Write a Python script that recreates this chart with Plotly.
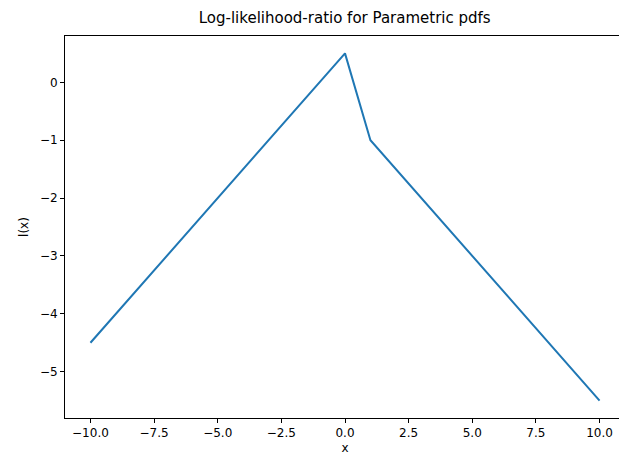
import plotly.graph_objects as go

x = [-10, 0, 1, 10]
lx = [-4.5, 0.5, -1.0, -5.5]

fig = go.Figure()
fig.add_trace(go.Scatter(x=x, y=lx, mode="lines", line=dict(color="#1f77b4", width=2)))

axis = dict(showgrid=False, zeroline=False, showline=True, linecolor="black", linewidth=1,
            mirror=True, ticks="outside", ticklen=4, tickcolor="black", automargin=False,
            tickfont=dict(size=12, color="black"))
fig.update_layout(
    width=627, height=473,
    margin=dict(l=57, r=10, t=28, b=63, autoexpand=False),
    plot_bgcolor="white", paper_bgcolor="white",
    font=dict(family="DejaVu Sans", color="black"),
    showlegend=False,
    title=dict(text="Log-likelihood-ratio for Parametric pdfs", x=0.537, xanchor="center",
               y=0.99, yanchor="top", font=dict(size=15)),
    xaxis=dict(axis, range=[-11, 11], tickvals=[-10, -7.5, -5, -2.5, 0, 2.5, 5, 7.5, 10],
               ticktext=["−10.0", "−7.5", "−5.0", "−2.5", "0.0", "2.5", "5.0", "7.5", "10.0"],
               title=dict(text="x", font=dict(size=12), standoff=4)),
    yaxis=dict(axis, range=[-5.8, 0.8], tickvals=[0, -1, -2, -3, -4, -5],
               ticktext=["0", "−1", "−2", "−3", "−4", "−5"],
               title=dict(text="l(x)", font=dict(size=12), standoff=8)),
)
fig.write_html("out.html")
